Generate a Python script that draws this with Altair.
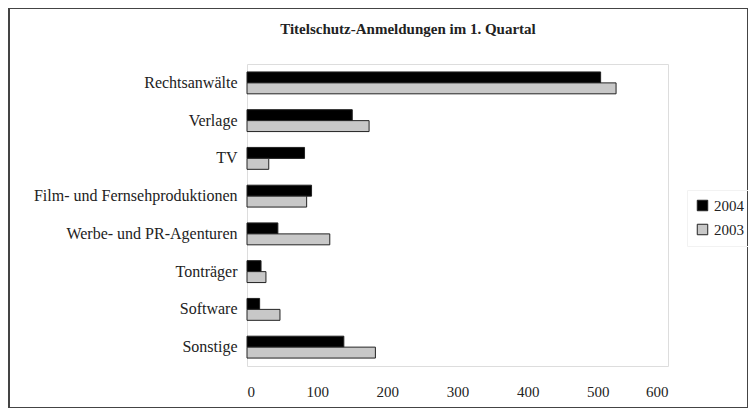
import altair as alt
import pandas as pd

categories = ["Rechtsanwälte", "Verlage", "TV", "Film- und Fernsehproduktionen",
              "Werbe- und PR-Agenturen", "Tonträger", "Software", "Sonstige"]
years = ["2004", "2003"]
values_2004 = [504, 150, 82, 92, 44, 20, 18, 138]
values_2003 = [526, 174, 31, 85, 118, 27, 47, 183]
x_ticks = [0, 100, 200, 300, 400, 500, 600]
title_text = "Titelschutz-Anmeldungen im 1. Quartal"

rows = []
for c, v4, v3 in zip(categories, values_2004, values_2003):
    rows.append({"Kategorie": c, "Jahr": "2004", "Wert": v4})
    rows.append({"Kategorie": c, "Jahr": "2003", "Wert": v3})
df = pd.DataFrame(rows)

FONT = "Liberation Serif"

bars = alt.Chart(df).mark_bar(stroke="#222222", strokeWidth=1).encode(
    y=alt.Y("Kategorie:N", sort=categories,
            scale=alt.Scale(paddingInner=0.42, paddingOuter=0.21),
            axis=alt.Axis(title=None, ticks=False, domain=False, labelPadding=10,
                          labelLimit=400,
                          labelFont=FONT, labelFontSize=16, labelColor="#222222")),
    yOffset=alt.YOffset("Jahr:N", sort=years),
    x=alt.X("Wert:Q", scale=alt.Scale(domain=[0, 600]),
            axis=alt.Axis(title=None, values=x_ticks, grid=False, domain=False,
                          ticks=False, labelPadding=18, labelFont=FONT,
                          labelFontSize=15, labelColor="#222222")),
    color=alt.Color("Jahr:N", sort=years,
                    scale=alt.Scale(domain=years, range=["#000000", "#c8c8c8"]),
                    legend=alt.Legend(title=None, orient="none", legendX=440, legendY=126,
                                      symbolType="square", symbolSize=110,
                                      symbolStrokeColor="#222222", symbolStrokeWidth=1,
                                      labelFont=FONT, labelFontSize=15,
                                      labelColor="#222222", rowPadding=8,
                                      padding=8, strokeColor="#f2f2f2")),
)

frame = alt.Chart(pd.DataFrame({"f": [0]})).mark_rect(
    fill=None, stroke="#444444", strokeWidth=2, clip=False
).encode(
    x=alt.value(-238), x2=alt.value(501),
    y=alt.value(-56), y2=alt.value(344),
)

title = alt.Chart(pd.DataFrame({"t": [title_text]})).mark_text(
    font=FONT, fontSize=15, fontWeight="bold", color="#222222",
    align="center", baseline="middle", clip=False
).encode(
    text="t:N", x=alt.value(161), y=alt.value(-35),
)

chart = alt.layer(frame, bars, title).properties(
    width=421, height=302,
    padding={"left": 239, "top": 56, "right": 80, "bottom": 42},
    autosize=alt.AutoSizeParams(type="none"),
).configure_view(stroke="#888888", strokeWidth=1.5).configure(background="white")

chart.save("out.html", embed_options={"renderer": "svg", "actions": False})
